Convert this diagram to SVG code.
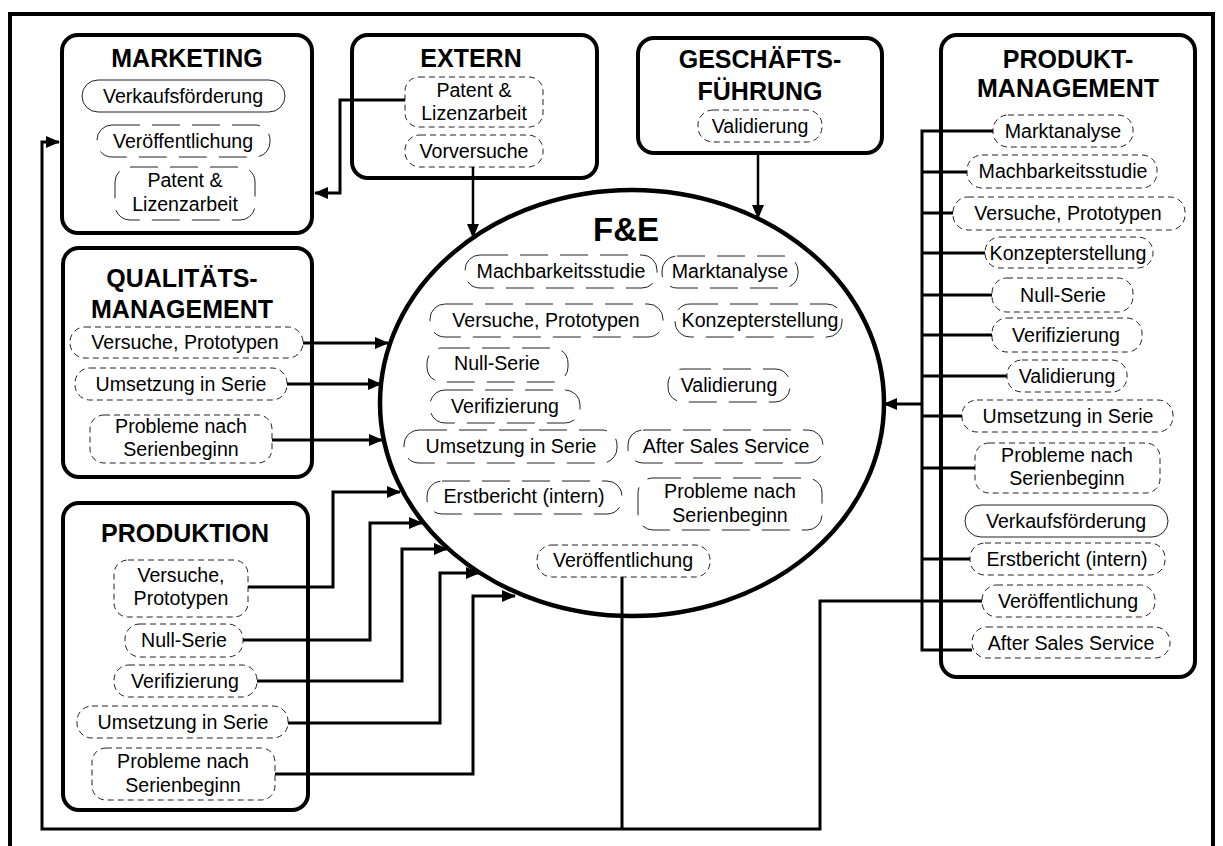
<svg xmlns="http://www.w3.org/2000/svg" width="1223" height="846" viewBox="0 0 1223 846">
  <defs>
    <style>
      .frame { fill: #fff; stroke: #000; stroke-width: 4; }
      .box { fill: #fff; stroke: #000; stroke-width: 4; }
      .pl { fill: #fff; stroke: #222; stroke-width: 1; stroke-dasharray: 6 4; }
      .pl.long { stroke-dasharray: 28 12; }
      .pl.solid { stroke-dasharray: none; }
      .t { font-family: "Liberation Sans", Arial, sans-serif; font-size: 19.6px; text-anchor: middle; fill: #000; }
      .h { font-family: "Liberation Sans", Arial, sans-serif; font-size: 25px; font-weight: bold; text-anchor: middle; fill: #000; }
      .c { fill: none; stroke: #000; stroke-width: 3; }
      .c.thin { stroke-width: 2.5; }
      .arr { marker-end: url(#ah); }
    </style>
    <marker id="ah" markerUnits="userSpaceOnUse" markerWidth="14" markerHeight="12" refX="13" refY="6" orient="auto">
      <path d="M0,0 L14,6 L0,12 z" fill="#000"/>
    </marker>
  </defs>

  <!-- outer frame -->
  <rect class="frame" x="10" y="14" width="1203" height="842"/>

  <!-- central F&E ellipse -->
  <g id="fue">
    <ellipse cx="632" cy="403" rx="252" ry="213" fill="#fff" stroke="#000" stroke-width="4.5"/>
    <text class="h" x="626" y="241" style="font-size:33px">F&amp;E</text>
    <rect class="pl long" x="465" y="255" width="192" height="33" rx="15"/>
    <text class="t" x="561" y="278">Machbarkeitsstudie</text>
    <rect class="pl long" x="662" y="256" width="136" height="32" rx="15"/>
    <text class="t" x="730" y="278">Marktanalyse</text>
    <rect class="pl long" x="430" y="304" width="233" height="33" rx="15"/>
    <text class="t" x="546" y="327">Versuche, Prototypen</text>
    <rect class="pl long" x="675" y="304" width="167" height="33" rx="15"/>
    <text class="t" x="760" y="327">Konzepterstellung</text>
    <rect class="pl long" x="427" y="348" width="141" height="34" rx="15"/>
    <text class="t" x="497" y="370">Null-Serie</text>
    <rect class="pl long" x="430" y="390" width="150" height="33" rx="15"/>
    <text class="t" x="505" y="413">Verifizierung</text>
    <rect class="pl long" x="668" y="369" width="122" height="33" rx="15"/>
    <text class="t" x="729" y="392">Validierung</text>
    <rect class="pl long" x="404" y="430" width="213" height="33" rx="15"/>
    <text class="t" x="511" y="453">Umsetzung in Serie</text>
    <rect class="pl long" x="628" y="430" width="195" height="33" rx="15"/>
    <text class="t" x="726" y="453">After Sales Service</text>
    <rect class="pl long" x="427" y="481" width="195" height="33" rx="15"/>
    <text class="t" x="524" y="503">Erstbericht (intern)</text>
    <rect class="pl long" x="638" y="478" width="184" height="52" rx="15"/>
    <text class="t" x="730" y="498">Probleme nach</text>
    <text class="t" x="730" y="522">Serienbeginn</text>
    <rect class="pl" x="537" y="545" width="173" height="32" rx="15"/>
    <text class="t" x="623" y="567">Veröffentlichung</text>
  </g>

  <!-- Marketing -->
  <g id="marketing">
    <rect class="box" x="62" y="35" width="250" height="198" rx="16"/>
    <text class="h" x="187" y="67">MARKETING</text>
    <rect class="pl solid" x="82" y="80" width="203" height="32" rx="16"/>
    <text class="t" x="183" y="103">Verkaufsförderung</text>
    <rect class="pl long" x="97" y="125" width="173" height="32" rx="15"/>
    <text class="t" x="183" y="148">Veröffentlichung</text>
    <rect class="pl long" x="115" y="167" width="140" height="53" rx="15"/>
    <text class="t" x="185" y="187">Patent &amp;</text>
    <text class="t" x="185" y="211">Lizenzarbeit</text>
  </g>

  <!-- Extern -->
  <g id="extern">
    <rect class="box" x="352" y="35" width="245" height="143" rx="16"/>
    <text class="h" x="471" y="67">EXTERN</text>
    <rect class="pl" x="405" y="77" width="138" height="50" rx="14"/>
    <text class="t" x="474" y="97">Patent &amp;</text>
    <text class="t" x="474" y="120">Lizenzarbeit</text>
    <rect class="pl" x="405" y="135" width="138" height="32" rx="15"/>
    <text class="t" x="474" y="158">Vorversuche</text>
  </g>

  <!-- Geschäftsführung -->
  <g id="geschaeftsfuehrung">
    <rect class="box" x="638" y="38" width="244" height="115" rx="16"/>
    <text class="h" x="760" y="68">GESCHÄFTS-</text>
    <text class="h" x="760" y="100">FÜHRUNG</text>
    <rect class="pl" x="698" y="110" width="124" height="32" rx="15"/>
    <text class="t" x="760" y="133">Validierung</text>
  </g>

  <!-- Produktmanagement -->
  <g id="produktmanagement">
    <rect class="box" x="941" y="35" width="254" height="642" rx="16"/>
    <text class="h" x="1068" y="68">PRODUKT-</text>
    <text class="h" x="1068" y="97">MANAGEMENT</text>
    <rect class="pl" x="993" y="115" width="140" height="32" rx="15"/>
    <text class="t" x="1063" y="138">Marktanalyse</text>
    <rect class="pl" x="967" y="155" width="190" height="33" rx="15"/>
    <text class="t" x="1063" y="178">Machbarkeitsstudie</text>
    <rect class="pl" x="953" y="197" width="232" height="33" rx="15"/>
    <text class="t" x="1068" y="220">Versuche, Prototypen</text>
    <rect class="pl" x="985" y="237" width="168" height="31" rx="15"/>
    <text class="t" x="1068" y="260">Konzepterstellung</text>
    <rect class="pl" x="992" y="278" width="141" height="34" rx="15"/>
    <text class="t" x="1063" y="302">Null-Serie</text>
    <rect class="pl" x="992" y="318" width="150" height="34" rx="15"/>
    <text class="t" x="1066" y="342">Verifizierung</text>
    <rect class="pl" x="1007" y="360" width="120" height="32" rx="15"/>
    <text class="t" x="1067" y="383">Validierung</text>
    <rect class="pl" x="962" y="400" width="211" height="32" rx="15"/>
    <text class="t" x="1068" y="423">Umsetzung in Serie</text>
    <rect class="pl" x="975" y="443" width="185" height="50" rx="14"/>
    <text class="t" x="1067" y="462">Probleme nach</text>
    <text class="t" x="1067" y="485">Serienbeginn</text>
    <rect class="pl solid" x="965" y="505" width="203" height="32" rx="16"/>
    <text class="t" x="1066" y="528">Verkaufsförderung</text>
    <rect class="pl" x="970" y="543" width="195" height="32" rx="15"/>
    <text class="t" x="1067" y="566">Erstbericht (intern)</text>
    <rect class="pl" x="982" y="585" width="173" height="32" rx="15"/>
    <text class="t" x="1068" y="608">Veröffentlichung</text>
    <rect class="pl" x="972" y="627" width="198" height="31" rx="15"/>
    <text class="t" x="1071" y="650">After Sales Service</text>
  </g>

  <!-- Qualitätsmanagement -->
  <g id="qualitaetsmanagement">
    <rect class="box" x="63" y="248" width="249" height="229" rx="16"/>
    <text class="h" x="182" y="287">QUALITÄTS-</text>
    <text class="h" x="182" y="318">MANAGEMENT</text>
    <rect class="pl" x="70" y="327" width="233" height="31" rx="15"/>
    <text class="t" x="185" y="349">Versuche, Prototypen</text>
    <rect class="pl" x="75" y="368" width="212" height="32" rx="15"/>
    <text class="t" x="181" y="391">Umsetzung in Serie</text>
    <rect class="pl" x="90" y="415" width="182" height="48" rx="14"/>
    <text class="t" x="181" y="433">Probleme nach</text>
    <text class="t" x="181" y="456">Serienbeginn</text>
  </g>

  <!-- Produktion -->
  <g id="produktion">
    <rect class="box" x="63" y="503" width="245" height="307" rx="16"/>
    <text class="h" x="185" y="542">PRODUKTION</text>
    <rect class="pl" x="114" y="560" width="134" height="57" rx="14"/>
    <text class="t" x="181" y="582">Versuche,</text>
    <text class="t" x="181" y="605">Prototypen</text>
    <rect class="pl" x="125" y="624" width="118" height="33" rx="15"/>
    <text class="t" x="184" y="647">Null-Serie</text>
    <rect class="pl" x="114" y="665" width="143" height="32" rx="15"/>
    <text class="t" x="185" y="688">Verifizierung</text>
    <rect class="pl" x="77" y="706" width="211" height="32" rx="15"/>
    <text class="t" x="183" y="729">Umsetzung in Serie</text>
    <rect class="pl" x="92" y="748" width="183" height="52" rx="14"/>
    <text class="t" x="183" y="768">Probleme nach</text>
    <text class="t" x="183" y="792">Serienbeginn</text>
  </g>

  <!-- connectors -->
  <g id="connectors">
    <!-- Extern -->
    <path class="c arr" d="M405,100 H340 V193 H315"/>
    <path class="c thin arr" d="M473,167 V237"/>
    <!-- Geschäftsführung -->
    <path class="c thin arr" d="M758,153 V218"/>
    <!-- Qualitätsmanagement -->
    <path class="c arr" d="M303,343 H388"/>
    <path class="c arr" d="M287,384 H381"/>
    <path class="c arr" d="M272,440 H382"/>
    <!-- Produktion -->
    <path class="c arr" d="M248,587 H333 V492 H400"/>
    <path class="c arr" d="M243,640 H370 V523 H422"/>
    <path class="c arr" d="M257,681 H402 V549 H447"/>
    <path class="c arr" d="M288,723 H440 V573 H479"/>
    <path class="c arr" d="M275,774 H473 V596 H515"/>
    <!-- Produktmanagement bracket -->
    <path class="c" d="M993,131 H922 V650 H972"/>
    <path class="c" d="M922,172 H967 M922,213 H953 M922,253 H985 M922,295 H992 M922,335 H992 M922,376 H1007 M922,416 H962 M922,468 H975 M922,559 H970"/>
    <path class="c arr" d="M922,404 H884"/>
    <!-- Veröffentlichung feedback loop -->
    <path class="c" d="M622,577 V829"/>
    <path class="c arr" d="M982,601 H820 V829 H42 V142 H59"/>
  </g>
</svg>
